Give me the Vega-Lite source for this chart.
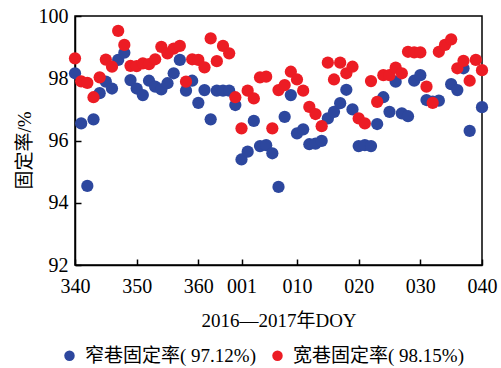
{
  "$schema": "https://vega.github.io/schema/vega-lite/v6.json",
  "width": 407,
  "height": 249,
  "autosize": {"type": "none"},
  "padding": {"left": 75, "top": 16, "right": 19, "bottom": 103},
  "background": "white",
  "config": {
    "font": "Liberation Serif, Noto Sans CJK SC",
    "view": {"stroke": "black", "strokeWidth": 1.5},
    "axis": {
      "domainColor": "black", "domainWidth": 1.5,
      "tickColor": "black", "tickWidth": 1.5, "tickSize": -6,
      "labelColor": "black", "labelFontSize": 20, "labelFont": "Liberation Serif",
      "titleColor": "black", "titleFontSize": 19, "titleFontWeight": "normal",
      "titleFont": "Liberation Serif, Noto Sans CJK SC",
      "grid": false
    }
  },
  "data": {
    "values": [
      {"d":0,"n":98.16,"w":98.64},{"d":1,"n":96.55,"w":97.9},{"d":2,"n":94.54,"w":97.85},
      {"d":3,"n":96.68,"w":97.39},{"d":4,"n":97.52,"w":98.03},{"d":5,"n":97.89,"w":98.6},
      {"d":6,"n":97.67,"w":98.37},{"d":7,"n":98.59,"w":99.52},{"d":8,"n":98.82,"w":99.07},
      {"d":9,"n":97.94,"w":98.4},{"d":10,"n":97.67,"w":98.39},{"d":11,"n":97.46,"w":98.48},
      {"d":12,"n":97.92,"w":98.45},{"d":13,"n":97.73,"w":98.61},{"d":14,"n":97.64,"w":99.01},
      {"d":15,"n":97.84,"w":98.8},{"d":16,"n":98.16,"w":98.95},{"d":17,"n":98.59,"w":99.04},
      {"d":18,"n":97.6,"w":97.89},{"d":19,"n":97.92,"w":98.61},{"d":20,"n":97.21,"w":98.59},
      {"d":21,"n":97.62,"w":98.35},{"d":22,"n":96.68,"w":99.28},{"d":23,"n":97.6,"w":98.55},
      {"d":24,"n":97.6,"w":99.04},{"d":25,"n":97.6,"w":98.8},{"d":26,"n":97.14,"w":97.39},
      {"d":27,"n":95.39,"w":96.39},{"d":28,"n":95.64,"w":97.6},{"d":29,"n":96.63,"w":97.35},
      {"d":30,"n":95.82,"w":98.03},{"d":31,"n":95.85,"w":98.05},{"d":32,"n":95.59,"w":96.39},
      {"d":33,"n":94.51,"w":97.62},{"d":34,"n":96.76,"w":97.78},{"d":35,"n":97.46,"w":98.21},
      {"d":36,"n":96.23,"w":97.96},{"d":37,"n":96.36,"w":97.6},{"d":38,"n":95.88,"w":97.08},
      {"d":39,"n":95.9,"w":96.85},{"d":40,"n":95.99,"w":96.46},{"d":41,"n":96.71,"w":98.5},
      {"d":42,"n":96.92,"w":97.96},{"d":43,"n":97.2,"w":98.5},{"d":44,"n":97.63,"w":98.16},
      {"d":45,"n":97.0,"w":98.37},{"d":46,"n":95.82,"w":96.71},{"d":47,"n":95.85,"w":96.55},
      {"d":48,"n":95.82,"w":97.91},{"d":49,"n":96.53,"w":97.24},{"d":50,"n":97.39,"w":98.1},
      {"d":51,"n":96.92,"w":98.1},{"d":52,"n":97.89,"w":98.34},{"d":53,"n":96.87,"w":98.16},
      {"d":54,"n":96.78,"w":98.85},{"d":55,"n":97.92,"w":98.83},{"d":56,"n":98.1,"w":98.83},
      {"d":57,"n":97.3,"w":97.73},{"d":58,"n":97.25,"w":97.21},{"d":59,"n":97.28,"w":98.85},
      {"d":60,"n":null,"w":99.07},{"d":61,"n":97.81,"w":99.25},{"d":62,"n":97.62,"w":98.32},
      {"d":63,"n":98.32,"w":98.56},{"d":64,"n":96.31,"w":97.92},{"d":65,"n":null,"w":98.59},
      {"d":66,"n":97.07,"w":98.26}
    ]
  },
  "transform": [
    {"fold": ["n", "w"]},
    {"filter": "datum.value != null"}
  ],
  "mark": {"type": "circle", "size": 150, "opacity": 1},
  "encoding": {
    "x": {
      "field": "d", "type": "quantitative",
      "scale": {"domain": [0, 66], "nice": false, "zero": false},
      "axis": {
        "values": [0, 10, 20, 27, 36, 46, 56, 66],
        "labelExpr": "datum.value==0?'340':datum.value==10?'350':datum.value==20?'360':datum.value==27?'001':datum.value==36?'010':datum.value==46?'020':datum.value==56?'030':'040'",
        "labelFlush": false,
        "labelPadding": 17,
        "title": "2016—2017年DOY",
        "titleY": 55,
        "titleBaseline": "middle"
      }
    },
    "y": {
      "field": "value", "type": "quantitative",
      "scale": {"domain": [92, 100], "nice": false, "zero": false},
      "axis": {
        "values": [92, 94, 96, 98, 100],
        "labelPadding": 13,
        "title": "固定率/%",
        "titleX": -51,
        "titleY": 134,
        "titleAlign": "center",
        "titleBaseline": "middle"
      }
    },
    "color": {
      "field": "key", "type": "nominal",
      "scale": {"domain": ["n", "w"], "range": ["#2D479E", "#EC1C24"]},
      "legend": {
        "orient": "none",
        "legendX": -15,
        "legendY": 330,
        "direction": "horizontal",
        "title": null,
        "symbolType": "circle",
        "symbolSize": 110,
        "symbolOpacity": 1,
        "labelFontSize": 19,
        "labelColor": "black",
        "labelFont": "Liberation Serif, Noto Sans CJK SC",
        "labelOffset": 6,
        "columnPadding": 12,
        "labelLimit": 400,
        "labelExpr": "datum.label=='n'?'窄巷固定率( 97.12%)':'宽巷固定率( 98.15%)'"
      }
    },
    "order": {"field": "key", "type": "ordinal"}
  }
}
